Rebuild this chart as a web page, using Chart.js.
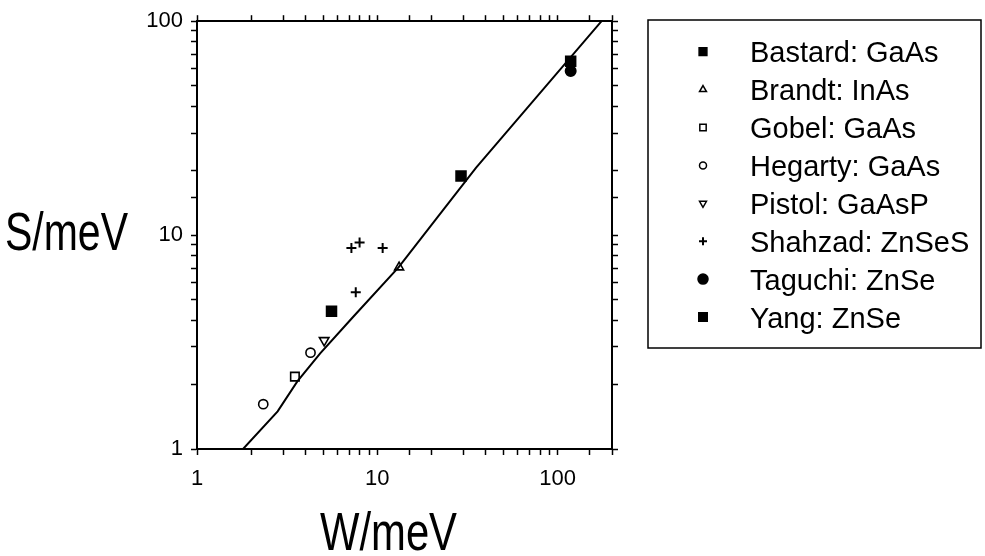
<!DOCTYPE html>
<html>
<head>
<meta charset="utf-8">
<script src="https://cdn.jsdelivr.net/npm/chart.js@4.4.1/dist/chart.umd.min.js"></script>
<style>
  html, body { margin: 0; padding: 0; background: #fff; }
  #wrap { width: 985px; height: 556px; position: relative; }
</style>
</head>
<body>
<div id="wrap"><canvas id="chart" width="985" height="556"></canvas></div>
<script>
// data (W/meV, S/meV)
const seriesNames = ["Bastard: GaAs", "Brandt: InAs", "Gobel: GaAs", "Hegarty: GaAs",
  "Pistol: GaAsP", "Shahzad: ZnSeS", "Taguchi: ZnSe", "Yang: ZnSe"];

const bastardW = [5.57, 29.1];
const bastardS = [4.4, 18.9];
const brandtW = [13.2];
const brandtS = [7.07];
const gobelW = [3.49];
const gobelS = [2.18];
const hegartyW = [2.33, 4.26];
const hegartyS = [1.62, 2.82];
const pistolW = [5.07];
const pistolS = [3.22];
const shahzadW = [7.18, 7.97, 10.7, 7.59];
const shahzadS = [8.7, 9.24, 8.7, 5.41];
const taguchiW = [118];
const taguchiS = [58.5];
const yangW = [118];
const yangS = [65];

// theory line
const fitW = [1.8, 2.8, 3.6, 4.82, 7.33, 13.1, 21.2, 35.2, 175];
const fitS = [1, 1.5, 2.07, 2.8, 4.14, 7.07, 11.9, 20.6, 100];

const xLabels = [1, 10, 100];
const yLabels = [1, 10, 100];

function pts(xs, ys) {
  return xs.map((x, i) => ({ x: x, y: ys[i] }));
}

// marker styles: [pointStyle, radius, filled, rotation, legendRadius]
const markers = [
  ["rect", 7, true, 0, 5.5],
  ["triangle", 5.2, false, 0, 4],
  ["rect", 6, false, 0, 4.5],
  ["circle", 4.6, false, 0, 3.5],
  ["triangle", 5.5, false, 180, 4],
  ["cross", 5, false, 0, 4],
  ["circle", 5.2, true, 0, 5],
  ["rect", 7, true, 0, 6]
];

const seriesData = [
  pts(bastardW, bastardS), pts(brandtW, brandtS), pts(gobelW, gobelS), pts(hegartyW, hegartyS),
  pts(pistolW, pistolS), pts(shahzadW, shahzadS), pts(taguchiW, taguchiS), pts(yangW, yangS)
];

const datasets = seriesData.map((d, i) => {
  const m = markers[i];
  return {
    type: "scatter",
    label: seriesNames[i],
    data: d,
    pointStyle: m[0],
    pointRadius: m[1],
    pointRotation: m[3],
    backgroundColor: m[2] ? "#000" : "#fff",
    borderColor: "#000",
    pointBorderWidth: m[0] === "cross" ? 2 : 1.6,
    legendRadius: m[4]
  };
});

datasets.unshift({
  type: "line",
  label: "fit",
  data: pts(fitW, fitS),
  borderColor: "#000",
  borderWidth: 2,
  pointRadius: 0,
  tension: 0,
  fill: false
});

const FONT_TICK = { family: "'Liberation Sans', Arial, sans-serif", size: 22 };

function tickLabel(v) {
  for (const t of this.axis === "x" ? xLabels : yLabels) {
    if (Math.abs(v - t) < 1e-6) return String(t);
  }
  return "";
}

const gridOpts = { drawOnChartArea: false, drawTicks: true, tickLength: 6, color: "#000", tickWidth: 1.5 };
const borderOpts = { display: true, color: "#000", width: 2 };

// squeeze a title into the narrow width it has in the original
function narrowText(ctx, text, x, y, width) {
  const sx = width / ctx.measureText(text).width;
  ctx.save();
  ctx.translate(x, y);
  ctx.scale(sx, 1);
  ctx.fillText(text, 0, 0);
  ctx.restore();
}

// axis titles and the boxed legend
const decorPlugin = {
  id: "decor",
  afterDraw(chart) {
    const ctx = chart.ctx;
    ctx.save();
    ctx.fillStyle = "#000";
    ctx.font = "53px 'Liberation Sans', Arial, sans-serif";
    ctx.textAlign = "left";
    ctx.textBaseline = "alphabetic";
    narrowText(ctx, "S/meV", 5, 250, 123);
    narrowText(ctx, "W/meV", 320, 550, 137);

    // legend box
    ctx.strokeStyle = "#000";
    ctx.lineWidth = 1.5;
    ctx.strokeRect(648, 20, 333, 328);
    ctx.font = "29px 'Liberation Sans', Arial, sans-serif";
    chart.data.datasets.forEach(ds => {
      if (ds.type !== "scatter") return;
      const i = seriesNames.indexOf(ds.label);
      const cy = 51.7 + i * 37.9;
      ctx.fillStyle = ds.backgroundColor;
      ctx.strokeStyle = "#000";
      ctx.lineWidth = ds.pointStyle === "cross" ? 2 : 1.5;
      Chart.helpers.drawPoint(ctx, {
        pointStyle: ds.pointStyle,
        radius: ds.legendRadius,
        rotation: ds.pointRotation,
        borderWidth: ctx.lineWidth
      }, 703, cy);
      ctx.fillStyle = "#000";
      ctx.fillText(ds.label, 750, cy + 10.5);
    });
    ctx.restore();
  }
};

new Chart(document.getElementById("chart"), {
  data: { datasets: datasets },
  options: {
    responsive: false,
    animation: false,
    devicePixelRatio: 1,
    layout: { padding: 0 },
    plugins: { legend: { display: false }, tooltip: { enabled: false } },
    scales: {
      x: {
        type: "logarithmic", position: "bottom", min: 1, max: 200,
        afterFit: s => { s.height = 107; },
        ticks: { callback: tickLabel, autoSkip: false, maxRotation: 0, color: "#000", font: FONT_TICK, padding: 11 },
        grid: gridOpts, border: borderOpts
      },
      x2: {
        type: "logarithmic", position: "top", min: 1, max: 200,
        afterFit: s => { s.height = 19; },
        ticks: { display: false },
        grid: gridOpts, border: borderOpts
      },
      y: {
        type: "logarithmic", position: "left", min: 1, max: 100,
        afterFit: s => { s.width = 197; },
        ticks: { callback: tickLabel, autoSkip: false, color: "#000", font: FONT_TICK, padding: 8 },
        grid: gridOpts, border: borderOpts
      },
      y2: {
        type: "logarithmic", position: "right", min: 1, max: 100,
        afterFit: s => { s.width = 373; },
        ticks: { display: false },
        grid: gridOpts, border: borderOpts
      }
    }
  },
  plugins: [decorPlugin]
});
</script>
</body>
</html>
